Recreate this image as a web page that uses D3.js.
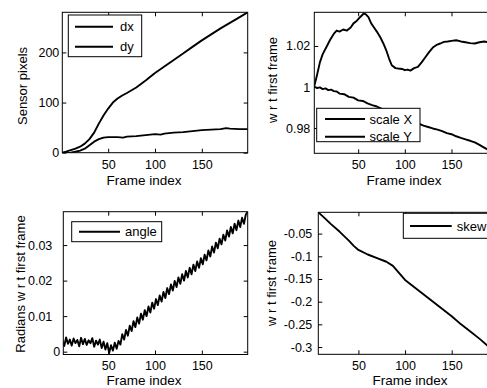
<!DOCTYPE html>
<html>
<head>
<meta charset="utf-8">
<script src="https://cdn.jsdelivr.net/npm/d3@7"></script>
<style>
  body { margin: 0; background: #fff; }
  svg { display: block; font-family: "Liberation Sans", Arial, Helvetica, sans-serif; }
  .tick line { stroke: #000; }
  .tick text { fill: #000; font-size: 12.5px; }
</style>
</head>
<body>
<svg width="487" height="388"></svg>
<script>
// ---- data ----
const xTicks = [50, 100, 150];

// translation (sensor pixels)
const dxFrames = [1, 5, 10, 15, 20, 25, 30, 35, 40, 45, 50, 55, 60, 65, 70, 80, 90, 100, 110, 120, 130, 140, 150, 160, 170, 180, 190, 199];
const dxValues = [0, 2, 5, 8, 12, 18, 27, 40, 58, 74, 88, 100, 108, 114, 119, 130, 144, 159, 172, 185, 198, 211, 224, 236, 248, 259, 270, 280];
const dyFrames = [1, 10, 15, 20, 25, 30, 35, 40, 45, 50, 60, 66, 70, 80, 90, 100, 106, 110, 120, 130, 140, 150, 160, 170, 176, 180, 190, 199];
const dyValues = [-1, 0, 2, 4, 8, 15, 22, 27, 30, 31, 31, 30, 32, 33, 35, 37, 36, 38, 40, 41, 43, 45, 46, 47, 49, 48, 47, 47];
const pixTicks = [0, 100, 200];

// scale w r t first frame
const sxFrames = [3, 6, 9, 12, 16, 20, 24, 27, 30, 34, 38, 42, 45, 48, 52, 56, 58, 61, 64, 67, 70, 74, 77, 80, 83, 86, 90, 93, 97, 100, 103, 106, 110, 114, 118, 122, 126, 130, 134, 138, 142, 146, 150, 155, 160, 165, 170, 175, 180, 185, 190, 195, 199];
const sxValues = [1.0005, 1.006, 1.012, 1.016, 1.0195, 1.023, 1.026, 1.0275, 1.027, 1.028, 1.0275, 1.029, 1.031, 1.032, 1.034, 1.0358, 1.0355, 1.034, 1.031, 1.029, 1.027, 1.024, 1.0212, 1.018, 1.014, 1.0106, 1.0092, 1.009, 1.0088, 1.0082, 1.0085, 1.008, 1.0092, 1.0098, 1.012, 1.0145, 1.017, 1.0192, 1.0205, 1.0212, 1.022, 1.0222, 1.0225, 1.0228, 1.0222, 1.0218, 1.0214, 1.0212, 1.0218, 1.0222, 1.0218, 1.0222, 1.022];
const syFrames = [3, 6, 9, 12, 15, 18, 21, 24, 27, 30, 35, 40, 45, 50, 55, 60, 65, 70, 75, 80, 85, 90, 95, 100, 105, 110, 115, 120, 125, 130, 135, 140, 145, 150, 155, 160, 165, 170, 175, 180, 185, 190, 195, 199];
const syValues = [1.0002, 0.9995, 0.9998, 0.999, 0.9993, 0.9985, 0.9987, 0.998, 0.9978, 0.9968, 0.9965, 0.9952, 0.9948, 0.9935, 0.9932, 0.992, 0.9912, 0.9905, 0.9895, 0.989, 0.9875, 0.9868, 0.9858, 0.9848, 0.9842, 0.9828, 0.9822, 0.9812, 0.9805, 0.9798, 0.9792, 0.9785, 0.9775, 0.977, 0.976, 0.9752, 0.9745, 0.9738, 0.973, 0.9718, 0.9705, 0.9692, 0.9685, 0.9677];
const scaleTicks = [0.98, 1, 1.02];

// rotation angle (radians), frames 1,3,5,...,199
const angleFrames = d3.range(1, 200, 2);
const angleValues = [
  0.0030, 0.0016, 0.0040, 0.0022, 0.0034, 0.0017, 0.0037, 0.0024, 0.0033, 0.0015,
  0.0039, 0.0021, 0.0036, 0.0019, 0.0032, 0.0024, 0.0038, 0.0014, 0.0031, 0.0020,
  0.0034, 0.0010, 0.0028, 0.0006, 0.0024, -0.0004, 0.0018, 0.0003, 0.0025, 0.0008,
  0.0030, 0.0020, 0.0049, 0.0034, 0.0061, 0.0045, 0.0073, 0.0058, 0.0086, 0.0069,
  0.0096, 0.0079, 0.0107, 0.0090, 0.0117, 0.0100, 0.0127, 0.0110, 0.0138, 0.0121,
  0.0148, 0.0131, 0.0158, 0.0141, 0.0168, 0.0151, 0.0179, 0.0162, 0.0189, 0.0172,
  0.0199, 0.0182, 0.0209, 0.0191, 0.0218, 0.0200, 0.0227, 0.0209, 0.0236, 0.0218,
  0.0245, 0.0227, 0.0254, 0.0236, 0.0263, 0.0246, 0.0273, 0.0257, 0.0285, 0.0268,
  0.0296, 0.0279, 0.0307, 0.0291, 0.0318, 0.0302, 0.0329, 0.0313, 0.0341, 0.0324,
  0.0351, 0.0333, 0.0360, 0.0342, 0.0369, 0.0351, 0.0377, 0.0360, 0.0386, 0.0394
];
const angleTicks = [0, 0.01, 0.02, 0.03];

// skew
const skewFrames = [7, 15, 20, 30, 40, 45, 50, 60, 70, 80, 87, 90, 100, 110, 120, 130, 140, 150, 160, 170, 180, 190, 199];
const skewValues = [-0.003, -0.018, -0.028, -0.046, -0.066, -0.077, -0.086, -0.096, -0.104, -0.112, -0.121, -0.128, -0.152, -0.168, -0.184, -0.200, -0.216, -0.232, -0.250, -0.266, -0.282, -0.300, -0.316];
const skewTicks = [-0.3, -0.25, -0.2, -0.15, -0.1, -0.05];

const svg = d3.select('svg');
const fmt = d => String(Math.round(d * 10000) / 10000);

function drawPanel(p) {
  const x = d3.scaleLinear().domain(p.xDomain).range([p.left, p.right]);
  const y = d3.scaleLinear().domain(p.yDomain).range([p.bottom, p.top]);
  const g = svg.append('g');

  g.append('clipPath').attr('id', 'clip-' + p.id)
    .append('rect')
    .attr('x', p.left).attr('y', p.top)
    .attr('width', p.right - p.left).attr('height', p.bottom - p.top);

  // axes with inward ticks on all four sides
  g.append('g').attr('transform', `translate(0,${p.bottom})`)
    .call(d3.axisBottom(x).tickValues(xTicks).tickSizeInner(-4).tickSizeOuter(0).tickPadding(7).tickFormat(fmt));
  g.append('g').attr('transform', `translate(0,${p.top})`)
    .call(d3.axisTop(x).tickValues(xTicks).tickSizeInner(-4).tickSizeOuter(0).tickFormat(''));
  const yAxis = g.append('g').attr('transform', `translate(${p.left},0)`)
    .call(d3.axisLeft(y).tickValues(p.yTicks).tickSizeInner(-4).tickSizeOuter(0).tickPadding(p.yPad).tickFormat(fmt));
  if (p.yPadNonZero) {
    // the old figure puts the non-zero labels further from the axis
    yAxis.selectAll('.tick text').filter(d => d !== 0).attr('x', -p.yPadNonZero);
  }
  g.append('g').attr('transform', `translate(${p.right},0)`)
    .call(d3.axisRight(y).tickValues(p.yTicks).tickSizeInner(-4).tickSizeOuter(0).tickFormat(''));
  g.selectAll('.domain').remove();

  const line = d3.line().x(d => x(d[0])).y(d => y(d[1]));
  const plot = g.append('g').attr('clip-path', `url(#clip-${p.id})`);
  p.series.forEach(s => {
    plot.append('path')
      .datum(d3.zip(s.frames, s.values))
      .attr('d', line)
      .attr('fill', 'none')
      .attr('stroke', '#000')
      .attr('stroke-width', 1.9)
      .attr('stroke-linejoin', 'round');
  });

  g.append('rect')
    .attr('x', p.left).attr('y', p.top)
    .attr('width', p.right - p.left).attr('height', p.bottom - p.top)
    .attr('fill', 'none').attr('stroke', '#000').attr('stroke-width', 1);

  // axis labels
  g.append('text')
    .attr('x', p.xLabelX).attr('y', p.xLabelY)
    .attr('text-anchor', 'middle').attr('font-size', 13.5)
    .text('Frame index');
  g.append('text')
    .attr('transform', `translate(${p.yLabelX},${p.yLabelY}) rotate(-90)`)
    .attr('text-anchor', 'middle').attr('dy', '0.35em').attr('font-size', 13)
    .text(p.yLabel);

  // legend
  const lg = p.legend;
  g.append('rect')
    .attr('x', lg.x).attr('y', lg.y).attr('width', lg.w).attr('height', lg.h)
    .attr('fill', '#fff').attr('stroke', '#000').attr('stroke-width', 1);
  p.series.forEach((s, i) => {
    const cy = lg.rows[i];
    g.append('line')
      .attr('x1', lg.lineX1).attr('x2', lg.lineX2)
      .attr('y1', cy).attr('y2', cy)
      .attr('stroke', '#000').attr('stroke-width', 1.9);
    g.append('text')
      .attr('x', lg.textX).attr('y', cy).attr('dy', '0.35em')
      .attr('font-size', 13)
      .text(s.name);
  });
}

drawPanel({
  id: 'tl', left: 62.3, right: 247.7, top: 12.3, bottom: 152.7,
  xDomain: [1, 199], yDomain: [0, 280], yTicks: pixTicks, yPad: 3,
  yLabel: 'Sensor pixels', yLabelX: 22.5, yLabelY: 86,
  xLabelX: 144, xLabelY: 185,
  series: [
    { name: 'dx', frames: dxFrames, values: dxValues },
    { name: 'dy', frames: dyFrames, values: dyValues }
  ],
  legend: { x: 68.3, y: 15, w: 73.4, h: 41.7, rows: [26.7, 46.7], lineX1: 75, lineX2: 113, textX: 120 }
});

drawPanel({
  id: 'tr', left: 314.3, right: 497.2, top: 12.3, bottom: 153.3,
  xDomain: [3, 199], yDomain: [0.9677, 1.0364], yTicks: scaleTicks, yPad: 4,
  yLabel: 'w r t first frame', yLabelX: 272.5, yLabelY: 80,
  xLabelX: 404, xLabelY: 185,
  series: [
    { name: 'scale X', frames: sxFrames, values: sxValues },
    { name: 'scale Y', frames: syFrames, values: syValues }
  ],
  legend: { x: 316.7, y: 108.3, w: 103.3, h: 33.4, rows: [119, 136.7], lineX1: 325, lineX2: 365, textX: 369.5 }
});

drawPanel({
  id: 'bl', left: 63.3, right: 247.7, top: 211.7, bottom: 354.5,
  xDomain: [2, 199], yDomain: [-0.0008, 0.0394], yTicks: angleTicks, yPad: 3, yPadNonZero: 11,
  yLabel: 'Radians w r t first frame', yLabelX: 20, yLabelY: 284,
  xLabelX: 144, xLabelY: 385,
  series: [
    { name: 'angle', frames: angleFrames, values: angleValues }
  ],
  legend: { x: 71.7, y: 221.7, w: 90, h: 20, rows: [231.7], lineX1: 79, lineX2: 120, textX: 125 }
});

drawPanel({
  id: 'br', left: 318.3, right: 497.4, top: 212.3, bottom: 354.3,
  xDomain: [7, 199], yDomain: [-0.316, -0.003], yTicks: skewTicks, yPad: 6,
  yLabel: 'w r t first frame', yLabelX: 271.7, yLabelY: 283,
  xLabelX: 410, xLabelY: 385,
  series: [
    { name: 'skew', frames: skewFrames, values: skewValues }
  ],
  legend: { x: 403.3, y: 213.3, w: 90, h: 25, rows: [226], lineX1: 410, lineX2: 451.7, textX: 456.7 }
});
</script>
</body>
</html>
